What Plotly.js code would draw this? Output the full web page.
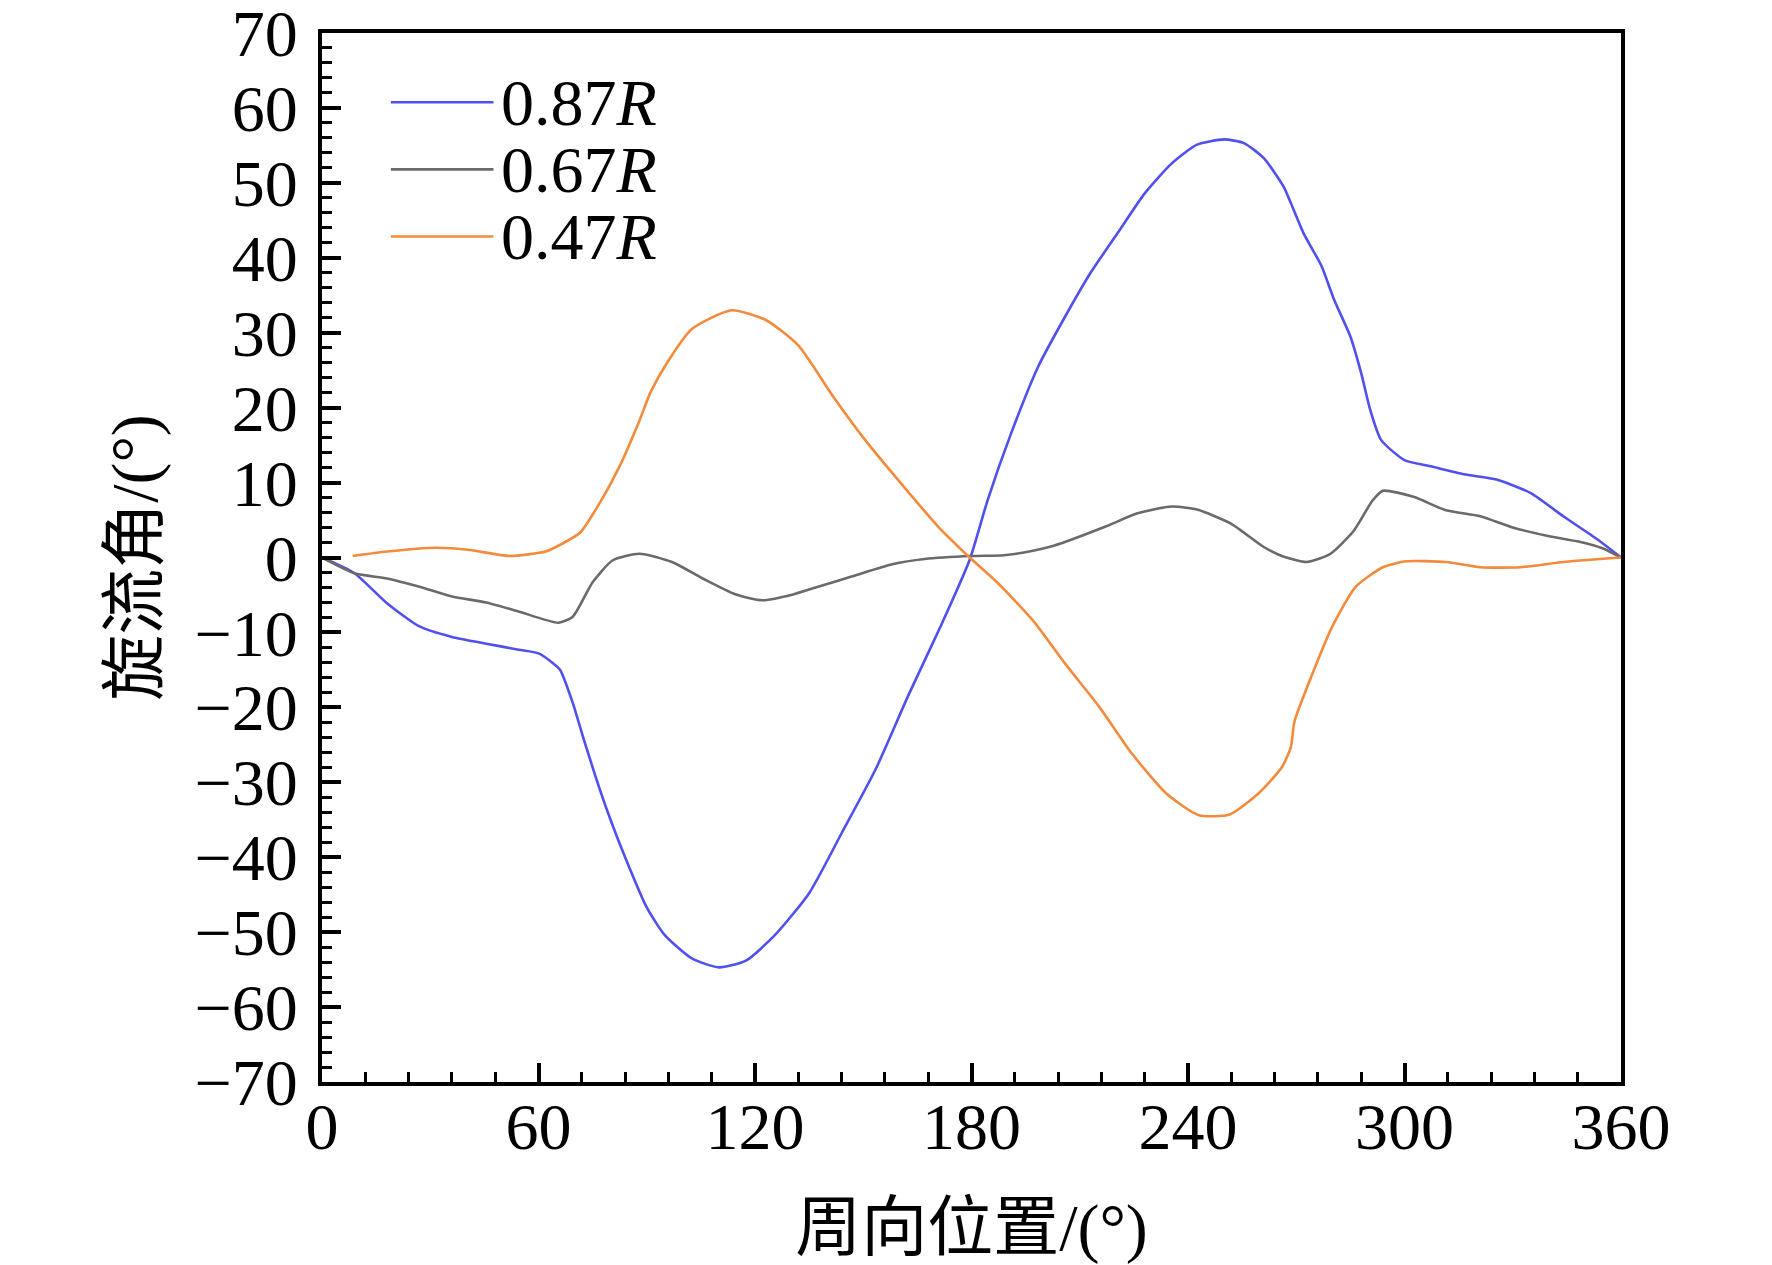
<!DOCTYPE html>
<html>
<head>
<meta charset="utf-8">
<script src="https://cdn.plot.ly/plotly-3.0.1.min.js"></script>
<style>
  html, body { margin: 0; padding: 0; background: #fff; }
  #plotter { width: 1772px; height: 1265px; }
</style>
</head>
<body>
<div id="plotter"></div>
<script>
// 旋流角 vs 周向位置
var pos87 = [0, 9, 18, 27, 36, 45.5, 54.5, 60, 64, 66, 69.5, 72.5, 76, 79.5, 84, 90, 95, 102.5, 110, 117.5,
    125.5, 135, 144, 153.5, 162.5, 172, 179.5, 184.5, 191, 198.5, 206, 213, 220.5, 228, 235.5, 242.5, 250,
    255.5, 261, 266.5, 268.5, 272, 277, 280.5, 285, 288, 290.5, 293.5, 300, 307, 316.5, 325.5, 335, 344, 353.5, 360];
var val87 = [0, -2.1, -6.1, -9.2, -10.6, -11.5, -12.3, -12.8, -14.1, -15, -19.4, -24.2, -29.5, -34.4, -40, -46.7,
    -50.4, -53.5, -54.7, -53.8, -50.4, -44.8, -36.8, -28.2, -18.4, -8.6, -0.3, 7.7, 16.6, 25.5, 32.2, 38, 43.3,
    48.6, 52.6, 55.1, 55.8, 55.3, 53.3, 49.5, 47.3, 43.3, 38.9, 34.4, 29.5, 24.6, 19.7, 15.7, 13, 12.2, 11.1, 10.4,
    8.6, 5.5, 2.4, 0];

var pos67 = [0, 9, 18, 27, 36, 45.5, 54.5, 65.5, 69.5, 75, 80.5, 88, 97, 105.5, 114.5, 122, 130, 137.5, 147, 158,
    167, 180, 189, 196, 203, 217, 226, 235.5, 242.5, 252, 261, 266, 273, 279.5, 286, 291, 294, 302.5, 311.5,
    321, 330, 339.5, 348.5, 355, 360];
var val67 = [0, -2.1, -2.8, -3.9, -5.2, -6, -7.2, -8.7, -7.9, -3.3, -0.4, 0.5, -0.6, -2.8, -4.9, -5.7, -5, -3.9, -2.5,
    -0.9, -0.2, 0.2, 0.3, 0.8, 1.6, 4.1, 5.9, 6.8, 6.4, 4.5, 1.4, 0.2, -0.6, 0.5, 3.6, 7.5, 8.9, 8.1, 6.3, 5.5,
    4, 2.9, 2.1, 1.2, 0];

var pos47 = [8.5, 18, 31.5, 41, 52, 62, 66, 71.5, 77, 82.5, 88, 91, 95.5, 102.5, 113.5, 123, 132,
    141.5, 150.5, 161.5, 171, 179.5, 187.5, 197, 206, 215.5, 224.5, 234, 243, 251.5, 259.5, 266, 268.5, 269.5,
    274.5, 280, 286.5, 294, 300.5, 311.5, 321, 332, 344, 360];
var val47 = [0.2, 0.8, 1.3, 1, 0.2, 0.8, 1.7, 3.3, 7.3, 12.2, 18.3, 22, 25.9, 30.5, 33, 31.7, 28.3,
    21.6, 15.7, 9.3, 4, 0, -3.5, -8.4, -14.2, -20, -26.2, -31.5, -34.4, -34.3, -31.5, -28, -25.3, -21.9, -15.5,
    -9.2, -3.9, -1.3, -0.5, -0.6, -1.3, -1.3, -0.6, 0];

var names = ['0.87<i>R</i>', '0.67<i>R</i>', '0.47<i>R</i>'];
var colors = ['#5050ee', '#6a6a6a', '#f48a3c'];
var xs = [pos87, pos67, pos47];
var ys = [val87, val67, val47];

var xTicks = [0, 60, 120, 180, 240, 300, 360];
var yTicks = [-70, -60, -50, -40, -30, -20, -10, 0, 10, 20, 30, 40, 50, 60, 70];

var serif = 'Liberation Serif, "Times New Roman", "Noto Sans CJK SC", serif';

var plots = [];
for (var i in xs) {
    plots.push({
        x: xs[i],
        y: ys[i],
        type: 'scatter',
        mode: 'lines',
        name: names[i],
        line: { color: colors[i], width: 2.6, shape: 'spline', smoothing: 0.6 },
        showlegend: false
    });
}

// legend drawn by hand so line length and row spacing match the figure
var shapes = [];
var annotations = [];
for (var i in names) {
    var ly = 0.934 - i * 0.064;
    shapes.push({
        type: 'line', xref: 'paper', yref: 'paper',
        x0: 0.053, x1: 0.132, y0: ly, y1: ly,
        line: { color: colors[i], width: 2.6 }
    });
    annotations.push({
        xref: 'paper', yref: 'paper', x: 0.136, y: ly,
        xanchor: 'left', yanchor: 'middle', showarrow: false,
        text: names[i],
        font: { family: serif, size: 66, color: '#000' }
    });
}

var layout = {
    width: 1772,
    height: 1265,
    paper_bgcolor: '#fff',
    plot_bgcolor: '#fff',
    showlegend: false,
    font: { family: serif, size: 66, color: '#000' },
    margin: { l: 322, r: 151, t: 33, b: 183 },
    xaxis: {
        range: [0, 360],
        tickvals: xTicks,
        ticks: 'inside',
        ticklen: 19,
        tickwidth: 4,
        tickcolor: '#000',
        minor: { dtick: 12, ticks: 'inside', ticklen: 10, tickwidth: 3, tickcolor: '#000' },
        showline: true,
        linewidth: 4,
        linecolor: '#000',
        mirror: true,
        showgrid: false,
        zeroline: false,
        ticklabelstandoff: -16,
        ticklabeloverflow: 'allow',
        title: { text: '周向位置/(°)', standoff: 48, font: { family: serif, size: 66 } }
    },
    yaxis: {
        range: [-70, 70.001],
        tickvals: yTicks,
        ticks: 'inside',
        ticklen: 19,
        tickwidth: 4,
        tickcolor: '#000',
        minor: { dtick: 2, ticks: 'inside', ticklen: 10, tickwidth: 3, tickcolor: '#000' },
        showline: true,
        linewidth: 4,
        linecolor: '#000',
        mirror: true,
        showgrid: false,
        zeroline: false,
        ticklabelstandoff: 7,
        ticklabeloverflow: 'allow',
        title: { text: '旋流角/(°)', standoff: 16, font: { family: serif, size: 66 } }
    },
    shapes: shapes,
    annotations: annotations
};

Plotly.newPlot('plotter', plots, layout, { staticPlot: true });
</script>
</body>
</html>
